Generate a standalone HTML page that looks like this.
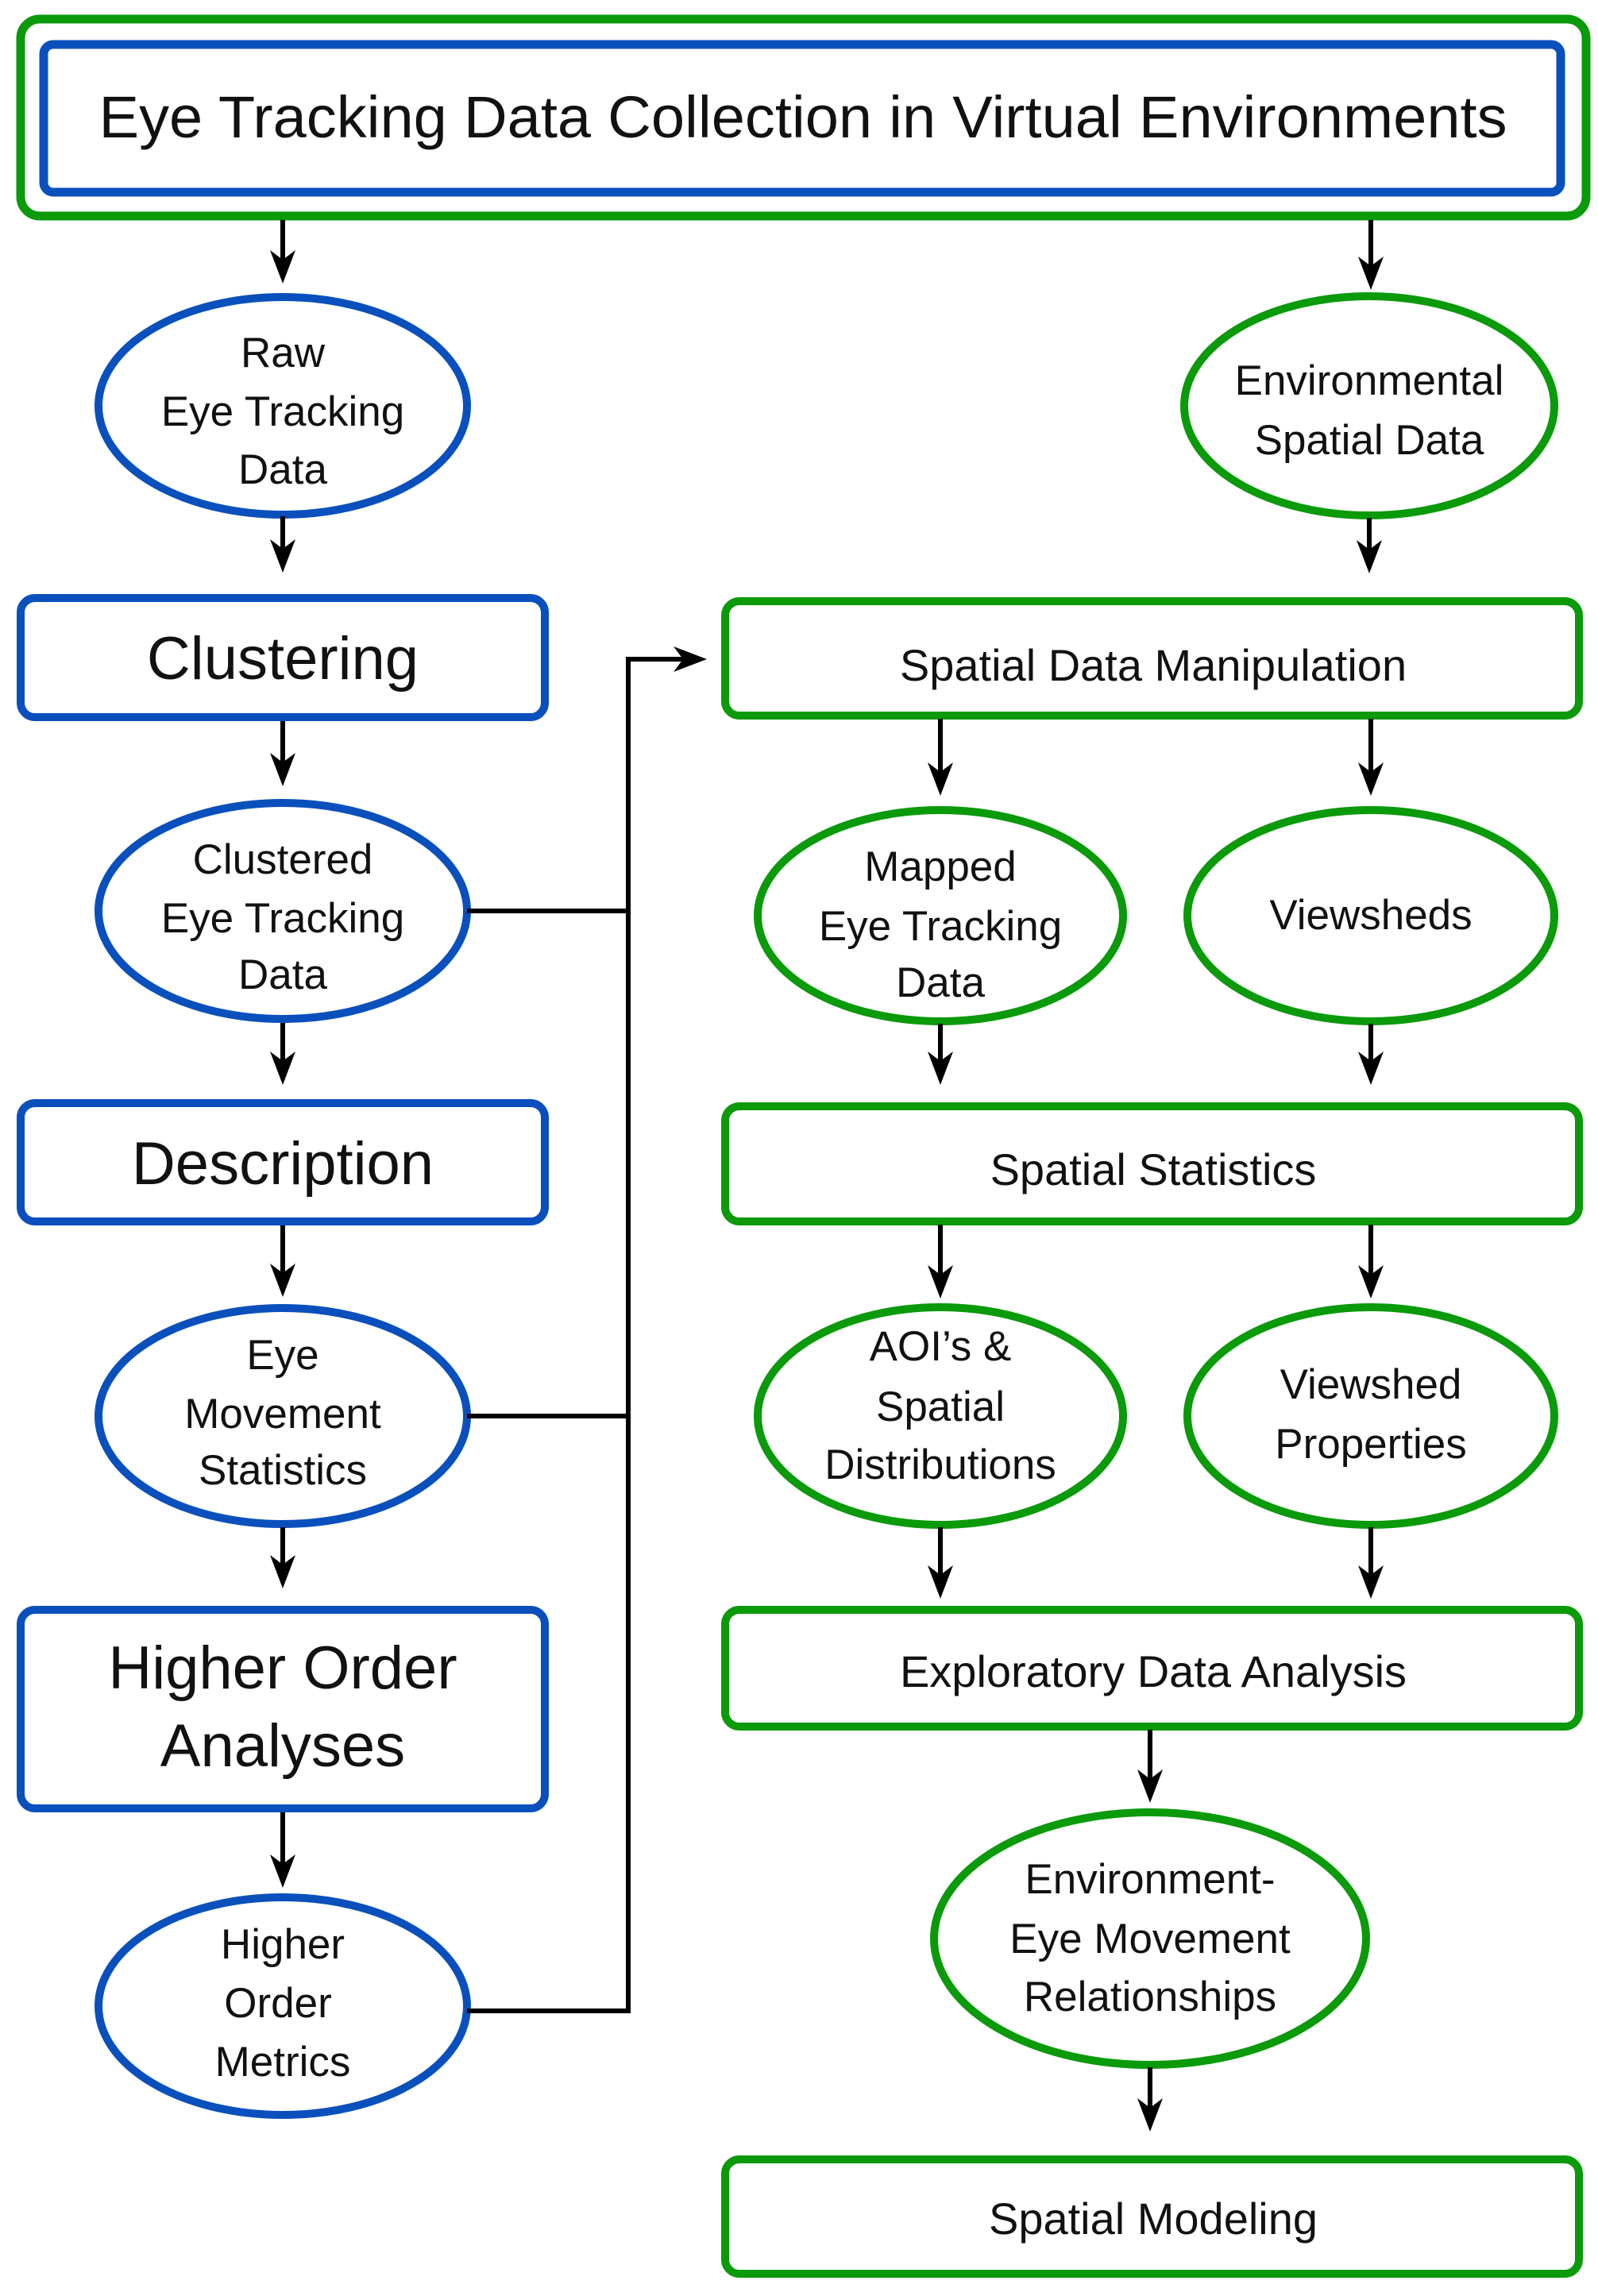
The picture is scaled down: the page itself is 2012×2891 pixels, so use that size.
<!DOCTYPE html>
<html><head><meta charset="utf-8"><style>
html,body{margin:0;padding:0;background:#fff}
svg{display:block}
text{font-family:"Liberation Sans",sans-serif;fill:#111;text-anchor:middle}
</style></head><body>
<svg width="2012" height="2891" viewBox="0 0 2012 2891" xmlns="http://www.w3.org/2000/svg">
<defs>
<g id="ah"><path d="M0 0 L-16 -42 L0 -30 L16 -42 Z" fill="#000"/></g>
</defs>
<g fill="#fff" stroke-width="10">
<!-- header -->
<rect x="26" y="24" width="1971" height="248" rx="24" stroke="#0a9a0a" stroke-width="11"/>
<rect x="55" y="56" width="1910" height="186" rx="12" stroke="#0a50bd" stroke-width="11"/>
<!-- left column -->
<ellipse cx="356" cy="511" rx="232" ry="137" stroke="#0a50bd"/>
<rect x="26" y="753" width="660" height="150" rx="18" stroke="#0a50bd"/>
<ellipse cx="356" cy="1147" rx="232" ry="136" stroke="#0a50bd"/>
<rect x="26" y="1389" width="660" height="149" rx="18" stroke="#0a50bd"/>
<ellipse cx="356" cy="1783" rx="232" ry="136" stroke="#0a50bd"/>
<rect x="26" y="2027" width="660" height="250" rx="18" stroke="#0a50bd"/>
<ellipse cx="356" cy="2526" rx="232" ry="137" stroke="#0a50bd"/>
<!-- right column -->
<ellipse cx="1724" cy="511" rx="233" ry="138" stroke="#0a9a0a"/>
<rect x="913" y="757" width="1075" height="144" rx="18" stroke="#0a9a0a"/>
<ellipse cx="1184" cy="1153" rx="230" ry="133" stroke="#0a9a0a"/>
<ellipse cx="1726" cy="1153" rx="231" ry="133" stroke="#0a9a0a"/>
<rect x="913" y="1393" width="1075" height="145" rx="18" stroke="#0a9a0a"/>
<ellipse cx="1184" cy="1783" rx="230" ry="137" stroke="#0a9a0a"/>
<ellipse cx="1726" cy="1783" rx="231" ry="137" stroke="#0a9a0a"/>
<rect x="913" y="2027" width="1075" height="147" rx="18" stroke="#0a9a0a"/>
<ellipse cx="1448" cy="2441" rx="272" ry="159" stroke="#0a9a0a"/>
<rect x="913" y="2719" width="1075" height="144" rx="18" stroke="#0a9a0a"/>
</g>
<!-- connectors -->
<g stroke="#000" stroke-width="6" fill="none">
<line x1="356" y1="277" x2="356" y2="330"/>
<line x1="356" y1="650" x2="356" y2="695"/>
<line x1="356" y1="908" x2="356" y2="965"/>
<line x1="356" y1="1288" x2="356" y2="1340"/>
<line x1="356" y1="1543" x2="356" y2="1605"/>
<line x1="356" y1="1923" x2="356" y2="1972"/>
<line x1="356" y1="2282" x2="356" y2="2350"/>
<line x1="1726" y1="277" x2="1726" y2="338"/>
<line x1="1724" y1="652" x2="1724" y2="695"/>
<line x1="1184" y1="905" x2="1184" y2="975"/>
<line x1="1726" y1="905" x2="1726" y2="975"/>
<line x1="1184" y1="1289" x2="1184" y2="1340"/>
<line x1="1726" y1="1289" x2="1726" y2="1340"/>
<line x1="1184" y1="1542" x2="1184" y2="1608"/>
<line x1="1726" y1="1542" x2="1726" y2="1608"/>
<line x1="1184" y1="1923" x2="1184" y2="1986"/>
<line x1="1726" y1="1923" x2="1726" y2="1986"/>
<line x1="1448" y1="2178" x2="1448" y2="2243"/>
<line x1="1448" y1="2603" x2="1448" y2="2657"/>
<polyline points="588,1147 791,1147"/>
<polyline points="588,1783 791,1783"/>
<polyline points="588,2532 791,2532 791,830 870,830"/>
</g>
<g>
<use href="#ah" x="356" y="357"/>
<use href="#ah" x="356" y="721"/>
<use href="#ah" x="356" y="990"/>
<use href="#ah" x="356" y="1366"/>
<use href="#ah" x="356" y="1633"/>
<use href="#ah" x="356" y="2000"/>
<use href="#ah" x="356" y="2377"/>
<use href="#ah" x="1726" y="365"/>
<use href="#ah" x="1724" y="722"/>
<use href="#ah" x="1184" y="1002"/>
<use href="#ah" x="1726" y="1002"/>
<use href="#ah" x="1184" y="1366"/>
<use href="#ah" x="1726" y="1366"/>
<use href="#ah" x="1184" y="1635"/>
<use href="#ah" x="1726" y="1635"/>
<use href="#ah" x="1184" y="2013"/>
<use href="#ah" x="1726" y="2013"/>
<use href="#ah" x="1448" y="2270"/>
<use href="#ah" x="1448" y="2684"/>
<path d="M0 0 L-42 -16 L-30 0 L-42 16 Z" fill="#000" transform="translate(890,830)"/>
</g>
<!-- text -->
<text x="1011" y="173" font-size="74" textLength="1773" lengthAdjust="spacingAndGlyphs">Eye Tracking Data Collection in Virtual Environments</text>
<g font-size="53">
<text x="356" y="462">Raw</text><text x="356" y="536">Eye Tracking</text><text x="356" y="609">Data</text>
<text x="356" y="1100">Clustered</text><text x="356" y="1174">Eye Tracking</text><text x="356" y="1245">Data</text>
<text x="356" y="1724">Eye</text><text x="356" y="1798">Movement</text><text x="356" y="1869">Statistics</text>
<text x="356" y="2466">Higher</text><text x="350" y="2540">Order</text><text x="356" y="2614">Metrics</text>
<text x="1724" y="497">Environmental</text><text x="1724" y="572">Spatial Data</text>
<text x="1184" y="1109">Mapped</text><text x="1184" y="1184">Eye Tracking</text><text x="1184" y="1255">Data</text>
<text x="1726" y="1170">Viewsheds</text>
<text x="1184" y="1713">AOI’s &amp;</text><text x="1184" y="1789">Spatial</text><text x="1184" y="1862">Distributions</text>
<text x="1726" y="1761">Viewshed</text><text x="1726" y="1836">Properties</text>
<text x="1448" y="2384">Environment-</text><text x="1448" y="2459">Eye Movement</text><text x="1448" y="2532">Relationships</text>
</g>
<g font-size="76">
<text x="356" y="855">Clustering</text>
<text x="356" y="1491">Description</text>
<text x="356" y="2126">Higher Order</text>
<text x="356" y="2224">Analyses</text>
</g>
<g font-size="56">
<text x="1452" y="857">Spatial Data Manipulation</text>
<text x="1452" y="1492">Spatial Statistics</text>
<text x="1452" y="2124">Exploratory Data Analysis</text>
<text x="1452" y="2813">Spatial Modeling</text>
</g>
</svg>
</body></html>
